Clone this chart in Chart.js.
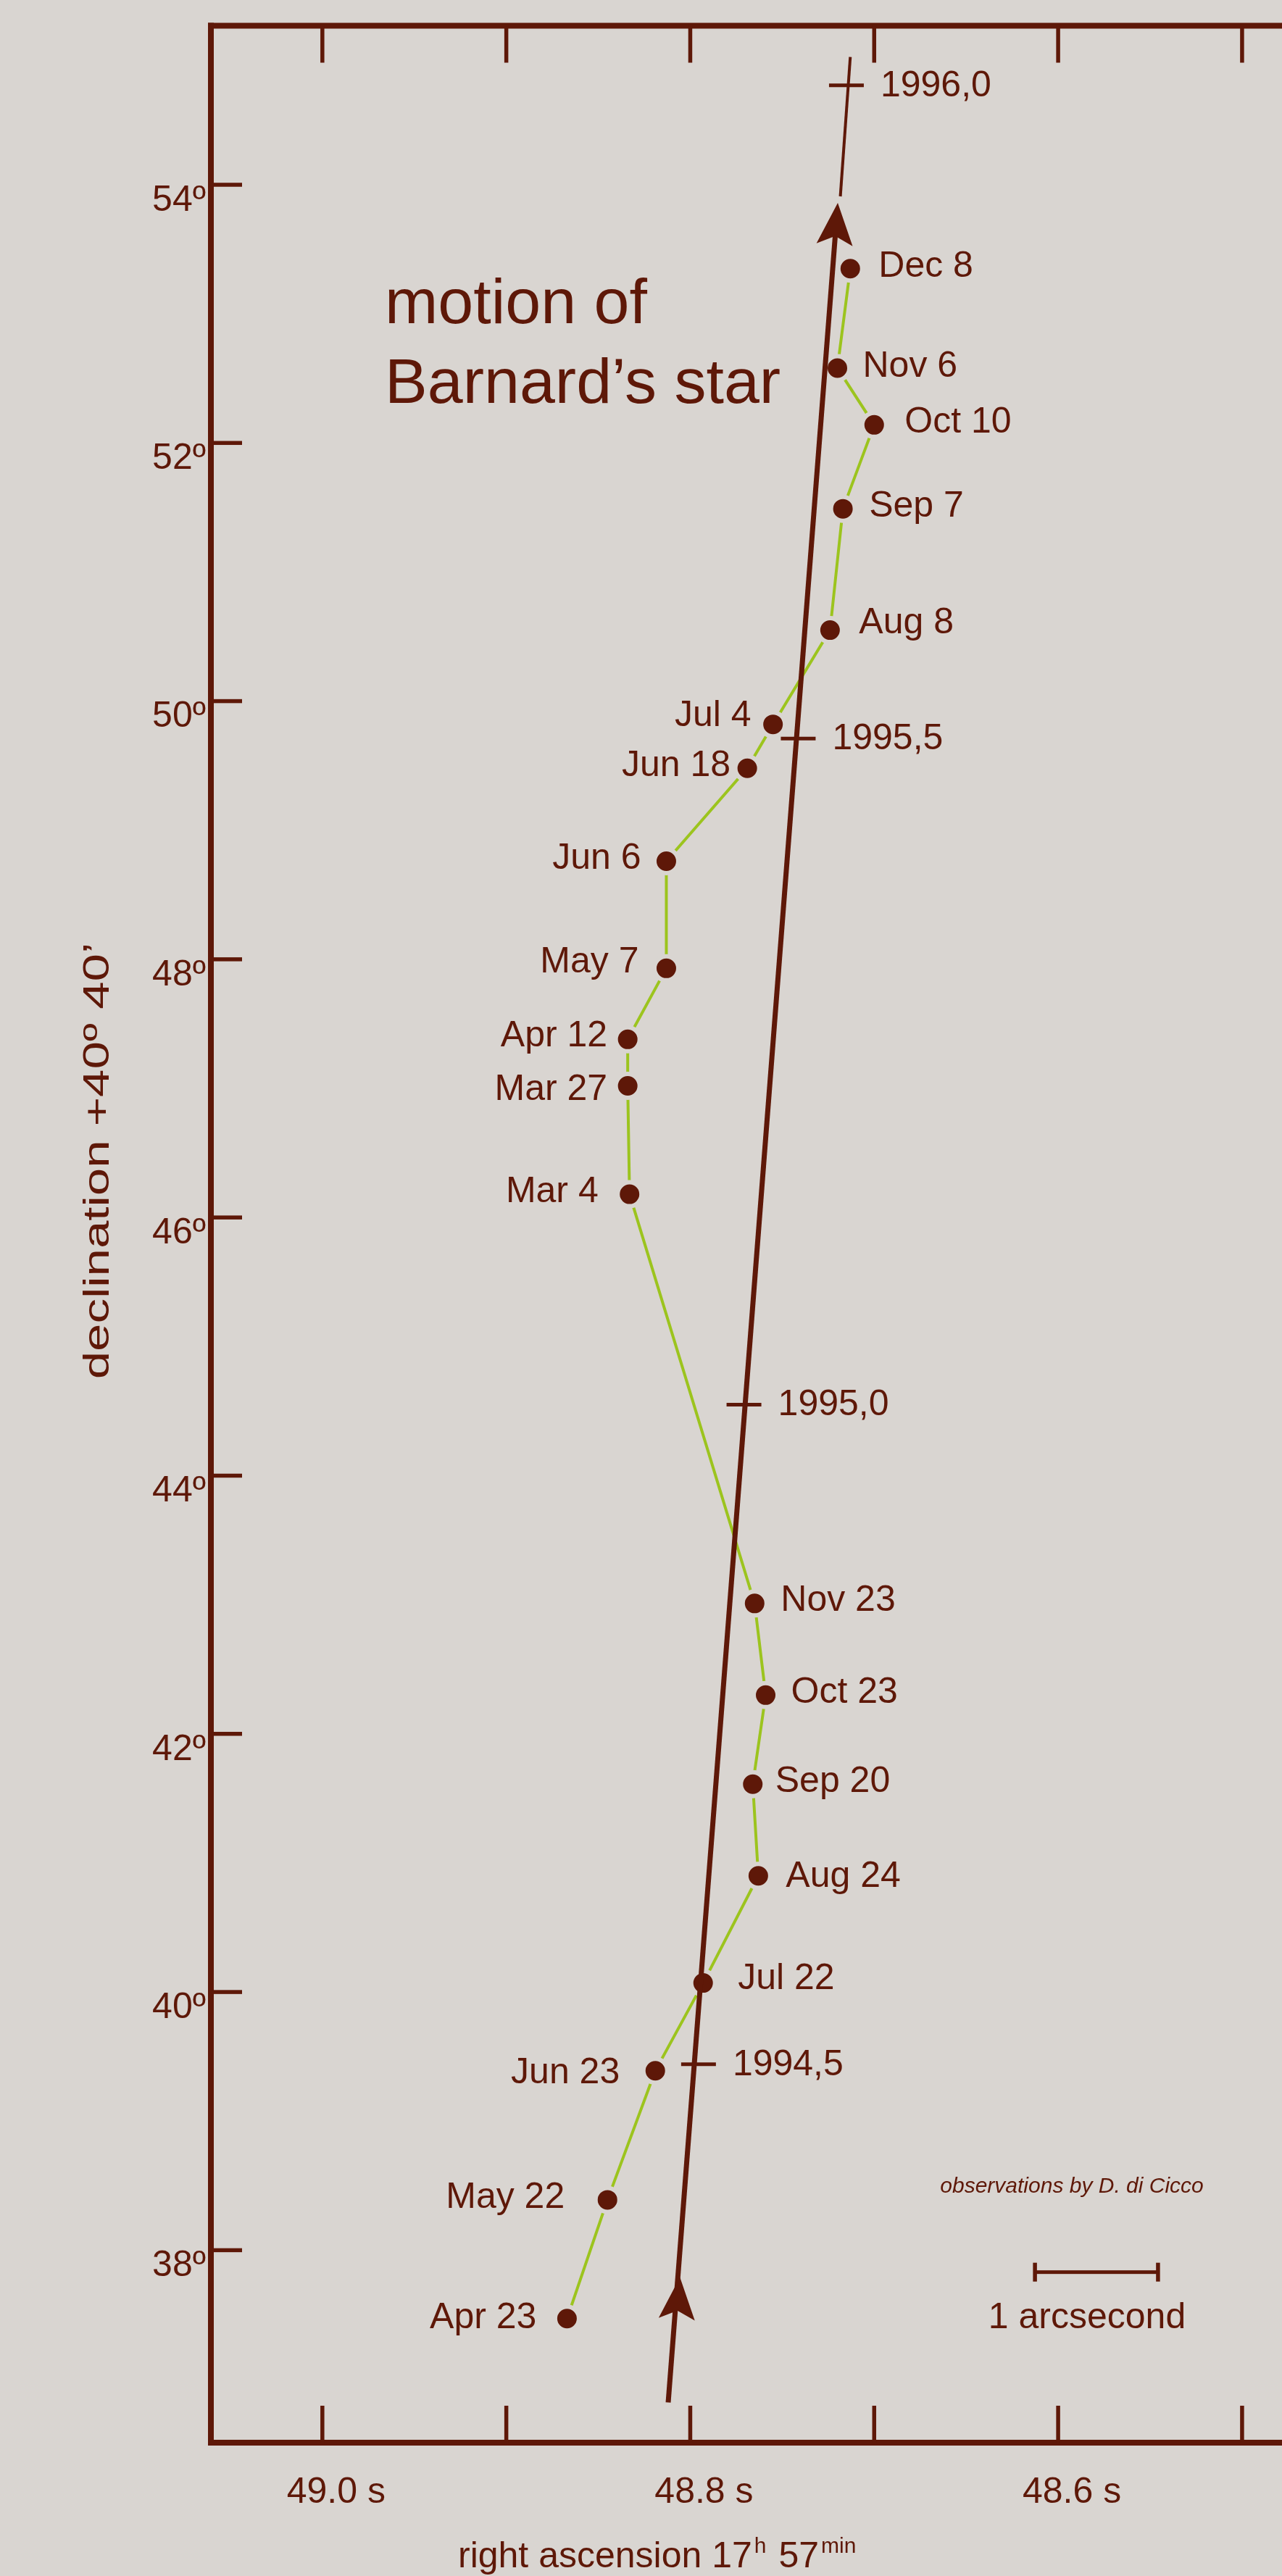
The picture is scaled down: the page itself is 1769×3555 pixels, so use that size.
<!DOCTYPE html>
<html>
<head>
<meta charset="utf-8">
<script src="https://cdn.jsdelivr.net/npm/chart.js@4.4.1/dist/chart.umd.min.js"></script>
<style>
  html, body { margin: 0; padding: 0; background: #d9d5d1; }
  #myChart { display: block; }
</style>
</head>
<body>
<canvas id="myChart" width="1769" height="3555"></canvas>
<script>
// Barnard's star positions, Apr 1994 - Dec 1995 (time order)
const obsDates = ["Apr 23", "May 22", "Jun 23", "Jul 22", "Aug 24", "Sep 20", "Oct 23", "Nov 23",
  "Mar 4", "Mar 27", "Apr 12", "May 7", "Jun 6", "Jun 18", "Jul 4", "Aug 8", "Sep 7", "Oct 10", "Nov 6", "Dec 8"];
// right ascension, seconds after 17h 57min
const obsRA = [48.867, 48.845, 48.819, 48.793, 48.763, 48.766, 48.759, 48.765,
  48.833, 48.834, 48.834, 48.813, 48.813, 48.769, 48.755, 48.724, 48.717, 48.700, 48.720, 48.713];
// declination, arcseconds after +40° 40'
const obsDec = [37.47, 38.39, 39.39, 40.07, 40.90, 41.61, 42.30, 43.01,
  46.18, 47.02, 47.38, 47.93, 48.76, 49.48, 49.82, 50.55, 51.49, 52.14, 52.58, 53.35];

// mean proper motion line (start, end of thick part) and its thin continuation
const motionRA = [48.812, 48.7211];
const motionDec = [36.82, 53.62];
const arrowTipRA = [48.8056, 48.7198];
const arrowTipDec = [37.79, 53.86];
const extensionRA = [48.7184, 48.7130];
const extensionDec = [53.91, 54.99];

// epoch marks on the motion line
const epochLabels = ["1994,5", "1995,0", "1995,5", "1996,0"];
const epochRA = [48.7955, 48.7708, 48.7413, 48.7151];
const epochDec = [39.44, 44.55, 49.71, 54.77];

// axes
const raTicks = [49.0, 48.9, 48.8, 48.7, 48.6, 48.5];
const raTickLabels = ["49.0 s", "", "48.8 s", "", "48.6 s", ""];
const decTicks = [38, 40, 42, 44, 46, 48, 50, 52, 54];
const decTickLabels = ["38º", "40º", "42º", "44º", "46º", "48º", "50º", "52º", "54º"];

// 1 arcsecond scale bar
const scaleBarRA = [48.6126, 48.5457];
const scaleBarDec = 37.83;

// label placement next to each dot (px), layout only
const labelDx = [-42, -59, -49, 48, 38, 31, 35, 36, -43, -28, -28, -38, -35, -23, -30, 40, 36, 42, 35, 39];
const labelDy = [-1, -3, 3, -5, 1, -3, -3, -4, -3, 6, -4, -8, -3, -3, -11, -9, -3, -3, -2, -3];

const BG = "#d9d5d1";
const BROWN = "#5e1808";
const GREEN = "#9cc41e";
const FONT = "'Liberation Sans', Arial, sans-serif";

const canvas = document.getElementById("myChart");
const ctx = canvas.getContext("2d");

function pt(xs, ys) {
  return xs.map((x, i) => ({ x: x, y: ys[i] }));
}

const overlay = {
  id: "overlay",
  beforeDraw(chart) {
    const c = chart.ctx;
    c.save();
    c.fillStyle = BG;
    c.fillRect(0, 0, chart.width, chart.height);
    c.restore();
  },
  afterDatasetsDraw(chart) {
    const c = chart.ctx;
    const xs = chart.scales.x, ys = chart.scales.y;
    const a = chart.chartArea;
    const px = v => xs.getPixelForValue(v);
    const py = v => ys.getPixelForValue(v);
    c.save();
    c.fillStyle = BROWN;
    c.strokeStyle = BROWN;

    // arrowheads along the motion direction
    const dx = px(motionRA[1]) - px(motionRA[0]);
    const dy = py(motionDec[1]) - py(motionDec[0]);
    const len = Math.hypot(dx, dy);
    const ux = dx / len, uy = dy / len;
    const nx = -uy, ny = ux;
    arrowTipRA.forEach((ra, i) => {
      const tx = px(ra), ty = py(arrowTipDec[i]);
      const L = 58, N = 46, W = 25;
      c.beginPath();
      c.moveTo(tx, ty);
      c.lineTo(tx - L * ux + W * nx, ty - L * uy + W * ny);
      c.lineTo(tx - N * ux, ty - N * uy);
      c.lineTo(tx - L * ux - W * nx, ty - L * uy - W * ny);
      c.closePath();
      c.fill();
    });

    // epoch ticks and labels
    c.lineWidth = 5;
    c.font = "50px " + FONT;
    c.textAlign = "left";
    c.textBaseline = "middle";
    epochRA.forEach((ra, i) => {
      const x = px(ra), y = py(epochDec[i]);
      c.beginPath();
      c.moveTo(x - 24, y);
      c.lineTo(x + 24, y);
      c.stroke();
      c.fillText(epochLabels[i], x + 47, y + 1);
    });

    // date labels
    obsDates.forEach((d, i) => {
      const x = px(obsRA[i]), y = py(obsDec[i]);
      c.textAlign = labelDx[i] < 0 ? "right" : "left";
      c.fillText(d, x + labelDx[i], y + labelDy[i]);
    });

    // frame (left, top, bottom) and inward ticks
    c.fillRect(a.left - 4, a.top - 4, 8, a.bottom - a.top + 8);
    c.fillRect(a.left - 4, a.top - 4, chart.width - a.left + 4, 8);
    c.fillRect(a.left - 4, a.bottom - 4, chart.width - a.left + 4, 8);
    decTicks.forEach(v => {
      const y = py(v);
      c.fillRect(a.left, y - 2.75, 43, 5.5);
    });
    raTicks.forEach(v => {
      const x = px(v);
      c.fillRect(x - 2.75, a.top, 5.5, 51);
      c.fillRect(x - 2.75, a.bottom - 51, 5.5, 51);
    });

    // scale bar
    const bx1 = px(scaleBarRA[0]), bx2 = px(scaleBarRA[1]), by = py(scaleBarDec);
    c.fillRect(bx1, by - 2.5, bx2 - bx1, 5);
    c.fillRect(bx1 - 2.75, by - 13, 5.5, 26);
    c.fillRect(bx2 - 2.75, by - 13, 5.5, 26);
    c.textAlign = "center";
    c.textBaseline = "alphabetic";
    c.font = "50px " + FONT;
    c.fillText("1 arcsecond", (bx1 + bx2) / 2 - 13, by + 77);
    c.font = "italic 30px " + FONT;
    c.fillText("observations by D. di Cicco", (bx1 + bx2) / 2 - 34, by - 110);

    // title
    c.textAlign = "left";
    c.font = "88px " + FONT;
    c.fillText("motion of", a.left + 240, 446);
    c.fillText("Barnard\u2019s star", a.left + 240, 556);

    // x axis title with superscripts
    const parts = [["right ascension 17", 50, 0], ["h", 30, 20], [" 57", 50, 0], ["min", 30, 20]];
    let tx = 632;
    const base = 3543;
    parts.forEach(p => {
      c.font = p[1] + "px " + FONT;
      c.fillText(p[0], tx, base - p[2]);
      tx += c.measureText(p[0]).width + 3;
    });

    // y axis title
    c.translate(136, 1602);
    c.rotate(-Math.PI / 2);
    c.scale(1.38, 1);
    c.textAlign = "center";
    c.textBaseline = "middle";
    c.font = "50px " + FONT;
    c.fillText("declination +40º 40\u2019", 0, 0);
    c.restore();
  }
};

new Chart(ctx, {
  type: "scatter",
  data: {
    datasets: [
      {
        label: "observations",
        data: pt(obsRA, obsDec),
        showLine: true,
        borderColor: GREEN,
        borderWidth: 4,
        pointRadius: 16.5,
        pointHoverRadius: 16.5,
        pointBorderWidth: 6,
        pointBackgroundColor: BROWN,
        pointBorderColor: BG,
        order: 3
      },
      {
        label: "proper motion",
        data: pt(motionRA, motionDec),
        showLine: true,
        borderColor: BROWN,
        borderWidth: 7,
        borderCapStyle: "butt",
        pointRadius: 0,
        order: 1
      },
      {
        label: "extension",
        data: pt(extensionRA, extensionDec),
        showLine: true,
        borderColor: BROWN,
        borderWidth: 4,
        pointRadius: 0,
        order: 1
      }
    ]
  },
  options: {
    responsive: false,
    animation: false,
    devicePixelRatio: 1,
    layout: { autoPadding: false, padding: { top: 35.5, right: 0, left: 0, bottom: 0 } },
    plugins: { legend: { display: false }, tooltip: { enabled: false } },
    scales: {
      x: {
        type: "linear",
        reverse: true,
        min: 48.4783,
        max: 49.0606,
        afterBuildTicks: s => { s.ticks = raTicks.map(v => ({ value: v })); },
        afterFit: s => { s.height = 184; s.paddingLeft = 0; s.paddingRight = 0; },
        grid: { display: false, drawTicks: false },
        border: { display: false },
        ticks: {
          autoSkip: false,
          maxRotation: 0,
          padding: 39,
          labelOffset: 19,
          color: BROWN,
          font: { family: FONT, size: 50 },
          callback: (v, i) => raTickLabels[i]
        }
      },
      y: {
        type: "linear",
        min: 36.509,
        max: 55.232,
        afterBuildTicks: s => { s.ticks = decTicks.map(v => ({ value: v })); },
        afterFit: s => { s.width = 291; s.paddingTop = 0; s.paddingBottom = 0; },
        grid: { display: false, drawTicks: false },
        border: { display: false },
        ticks: {
          padding: 7,
          labelOffset: 22,
          color: BROWN,
          font: { family: FONT, size: 50 },
          callback: (v, i) => decTickLabels[i]
        }
      }
    }
  },
  plugins: [overlay]
});
</script>
</body>
</html>
